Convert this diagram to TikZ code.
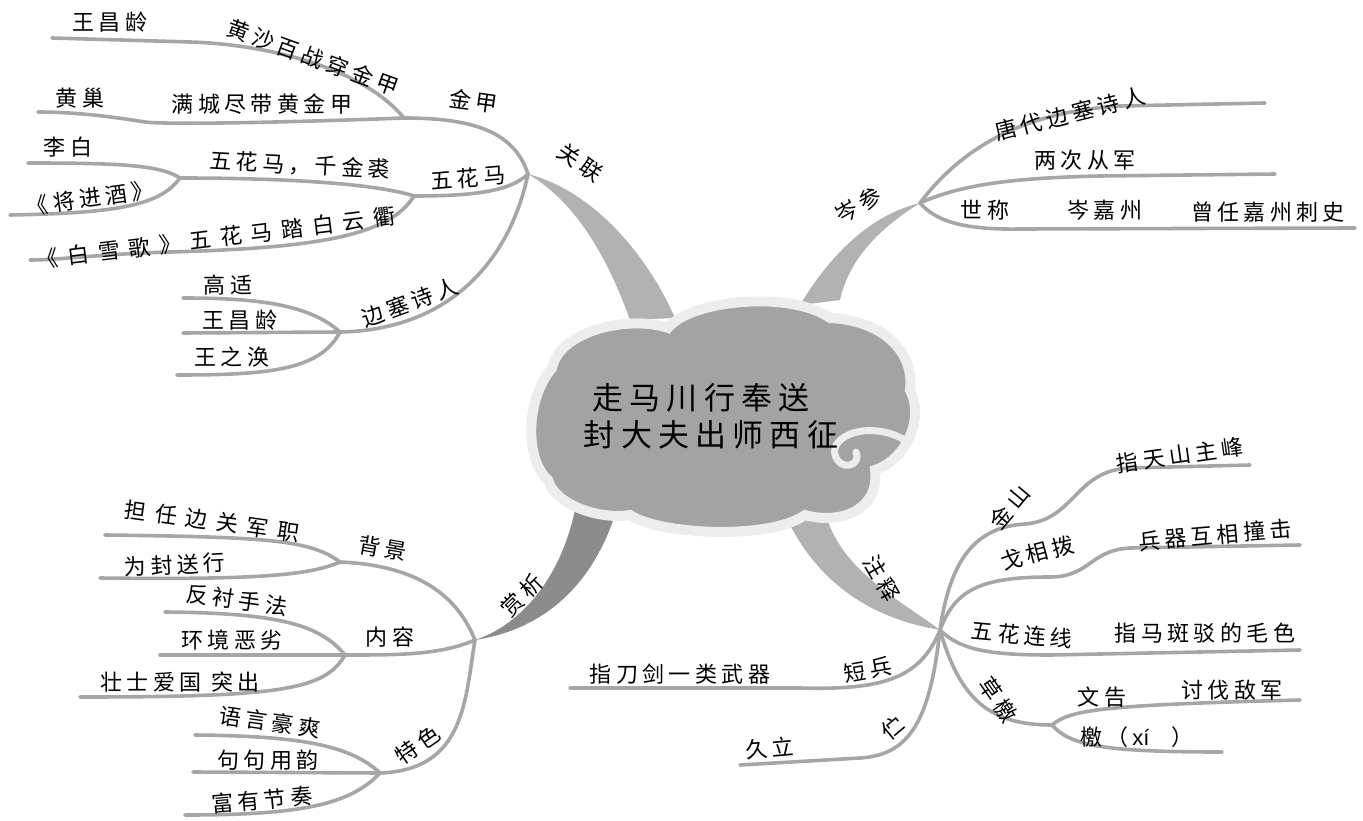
\documentclass[tikz,border=0pt]{standalone}
\usepackage{fontspec}
\newfontfamily\cjk[LetterSpace=20]{Noto Sans CJK SC}
\newfontfamily\pinyin{Liberation Sans}
\tikzset{
  twig/.style={draw=black!35, line width=3.6pt, line cap=round},
  limb/.style={fill=black!30},
  lbl/.style={font=\cjk\fontsize{22}{24}\selectfont, inner sep=0pt},
  wide/.style={font=\cjk\fontsize{22}{24}\selectfont\addfontfeature{LetterSpace=40}},
  ttl/.style={font=\cjk\fontsize{31}{34}\selectfont, inner sep=0pt},
}

\begin{document}
\begin{tikzpicture}[x=1pt,y=-1pt]
\useasboundingbox (0,0) rectangle (1363,821);

\coordinate (guanlian) at (528,174);
\coordinate (jinjia) at (404,118);
\coordinate (wuhuama) at (414,196);
\coordinate (jiangjin) at (180,178);
\coordinate (biansai) at (340,332);
\coordinate (censhen) at (920,203);
\coordinate (shangxi) at (475,640);
\coordinate (beijing) at (340,562);
\coordinate (neirong) at (345,655);
\coordinate (tese) at (380,773);
\coordinate (zhushi) at (940,630);
\coordinate (caoxi) at (1052,725);

\coordinate (e1) at (52,38);
\coordinate (e2) at (38,112);
\coordinate (e3) at (28,163);
\coordinate (e4) at (10,215);
\coordinate (e5) at (30,260);
\coordinate (e6) at (183,298);
\coordinate (e7) at (183,333);
\coordinate (e8) at (177,375);
\coordinate (e9) at (1265,103);
\coordinate (e10) at (1275,174);
\coordinate (e11) at (1355,228);
\coordinate (e12) at (105,535);
\coordinate (e13) at (100,578);
\coordinate (e14) at (165,612);
\coordinate (e15) at (160,655);
\coordinate (e16) at (80,697);
\coordinate (e17) at (195,735);
\coordinate (e18) at (193,772);
\coordinate (e19) at (185,815);
\coordinate (e20) at (1250,465);
\coordinate (e21) at (1300,545);
\coordinate (e22) at (1300,650);
\coordinate (e23) at (570,688);
\coordinate (e24) at (740,765);
\coordinate (e25) at (1300,700);
\coordinate (e26) at (1222,752);

\fill[limb] (630,320) .. controls (605,250) and (572,200) .. (guanlian) .. controls (590,190) and (645,250) .. (675,318) -- cycle;
\fill[limb] (800,305) .. controls (830,255) and (870,215) .. (censhen) .. controls (885,225) and (850,255) .. (840,300) -- cycle;
\fill[limb,black!45] (575,510) .. controls (560,580) and (520,625) .. (shangxi) .. controls (540,630) and (590,590) .. (615,515) -- cycle;
\fill[limb] (785,515) .. controls (820,590) and (880,620) .. (zhushi) .. controls (900,600) and (840,570) .. (825,512) -- cycle;

\draw[twig] (guanlian) .. controls (515,135) and (480,118) .. (jinjia);
\draw[twig] (jinjia) .. controls (360,65) and (260,44) .. (190,42) -- (e1);
\draw[twig] (jinjia) .. controls (300,122) and (170,125) .. (145,122) .. controls (120,118) and (80,112) .. (e2);
\draw[twig] (guanlian) .. controls (510,192) and (470,196) .. (wuhuama);
\draw[twig] (wuhuama) .. controls (380,185) and (300,178) .. (jiangjin);
\draw[twig] (jiangjin) .. controls (160,165) and (120,163) .. (e3);
\draw[twig] (jiangjin) .. controls (160,205) and (120,213) .. (e4);
\draw[twig] (wuhuama) .. controls (390,235) and (320,248) .. (170,252) .. controls (100,254) and (60,260) .. (e5);
\draw[twig] (guanlian) .. controls (510,260) and (450,330) .. (biansai);
\draw[twig] (biansai) .. controls (310,305) and (260,298) .. (e6);
\draw[twig] (biansai) -- (e7);
\draw[twig] (biansai) .. controls (320,370) and (270,375) .. (e8);

\draw[twig] (censhen) .. controls (960,150) and (1020,112) .. (1120,106) -- (e9);
\draw[twig] (censhen) .. controls (960,185) and (1010,178) .. (1100,176) -- (e10);
\draw[twig] (censhen) .. controls (935,220) and (960,230) .. (1020,229) -- (e11);

\draw[twig] (shangxi) .. controls (455,590) and (410,565) .. (beijing);
\draw[twig] (beijing) .. controls (310,540) and (270,537) .. (e12);
\draw[twig] (beijing) .. controls (310,575) and (260,580) .. (e13);
\draw[twig] (shangxi) .. controls (440,655) and (400,655) .. (neirong);
\draw[twig] (neirong) .. controls (320,625) and (280,613) .. (e14);
\draw[twig] (neirong) -- (e15);
\draw[twig] (neirong) .. controls (325,690) and (280,697) .. (e16);
\draw[twig] (shangxi) .. controls (465,700) and (465,770) .. (tese);
\draw[twig] (tese) .. controls (350,745) and (300,736) .. (e17);
\draw[twig] (tese) -- (e18);
\draw[twig] (tese) .. controls (350,805) and (300,815) .. (e19);

\draw[twig] (zhushi) .. controls (950,560) and (975,527) .. (1025,524) .. controls (1075,520) and (1075,470) .. (1130,468) -- (e20);
\draw[twig] (zhushi) .. controls (955,590) and (980,577) .. (1050,577) .. controls (1090,577) and (1090,550) .. (1130,548) -- (e21);
\draw[twig] (zhushi) .. controls (960,650) and (990,655) .. (1050,655) -- (e22);
\draw[twig] (zhushi) .. controls (920,680) and (880,690) .. (800,688) -- (e23);
\draw[twig] (zhushi) .. controls (930,720) and (910,755) .. (860,758) -- (e24);
\draw[twig] (zhushi) .. controls (960,700) and (990,725) .. (caoxi);
\draw[twig] (caoxi) .. controls (1070,710) and (1100,705) .. (e25);
\draw[twig] (caoxi) .. controls (1070,745) and (1100,752) .. (e26);

\draw[fill=black!36, draw=black!7, line width=10pt] (548,480) .. controls (525,460) and (525,400) .. (552,368)
  .. controls (560,330) and (630,315) .. (668,328)
  .. controls (690,300) and (790,290) .. (830,318)
  .. controls (880,320) and (915,350) .. (910,390)
  .. controls (925,420) and (905,460) .. (875,470)
  .. controls (880,510) and (840,525) .. (805,515)
  .. controls (770,540) and (660,535) .. (630,515)
  .. controls (600,520) and (555,505) .. (548,480) -- cycle;
\draw[black!7, line width=7pt, line cap=round] (905,440) .. controls (870,420) and (830,435) .. (835,455) .. controls (840,472) and (862,466) .. (856,452);

\node[ttl] (title1) at (701,398) {走马川行奉送};
\node[ttl] (title2) at (711,435) {封大夫出师西征};

\node[lbl, rotate=-35] (guanlianl) at (580,163) {关联};
\node[lbl, rotate=-8] (jinjial) at (474,101) {金甲};
\node[lbl] (wcl1) at (110,22) {王昌龄};
\node[lbl, rotate=-20] (huangsha) at (313,57) {黄沙百战穿金甲};
\node[lbl] (huangchao) at (80,98) {黄巢};
\node[lbl] (mancheng) at (262,104) {满城尽带黄金甲};
\node[lbl, rotate=5] (wuhuamal) at (468,178) {五花马};
\node[lbl, rotate=-3] (qianjin) at (300,165) {五花马，千金裘};
\node[lbl] (libail) at (68,147) {李白};
\node[lbl, rotate=8] (jiangjinl) at (90,198) {《将进酒》};
\node[lbl, wide, inner sep=0pt, rotate=7] (baixue) at (216,238) {《白雪歌》五花马踏白云衢};
\node[lbl, rotate=20] (biansail) at (410,302) {边塞诗人};
\node[lbl] (gaoshi) at (228,285) {高适};
\node[lbl] (wcl2) at (240,320) {王昌龄};
\node[lbl] (wzh) at (232,357) {王之涣};

\node[lbl, rotate=30] (censhenl) at (858,205) {岑参};
\node[lbl, rotate=14] (tangdai) at (1070,114) {唐代边塞诗人};
\node[lbl] (liangci) at (1085,160) {两次从军};
\node[lbl] (shicheng) at (985,210) {世称};
\node[lbl] (cenjia) at (1105,210) {岑嘉州};
\node[lbl] (cishi) at (1268,212) {曾任嘉州刺史};

\node[lbl, rotate=45] (shangxil) at (522,595) {赏析};
\node[lbl, rotate=-10] (beijingl) at (383,548) {背景};
\node[lbl, wide, inner sep=0pt, rotate=-8] (danren) at (212,521) {担任边关军职};
\node[lbl, rotate=3] (weifeng) at (175,565) {为封送行};
\node[lbl] (neirongl) at (390,637) {内容};
\node[lbl, rotate=-8] (fanchen) at (237,600) {反衬手法};
\node[lbl] (huanjing) at (232,640) {环境恶劣};
\node[lbl] (zhuangshi) at (180,682) {壮士爱国 突出};
\node[lbl, rotate=35] (tesel) at (418,745) {特色};
\node[lbl, rotate=-8] (yuyan) at (270,722) {语言豪爽};
\node[lbl] (juju) at (268,760) {句句用韵};
\node[lbl, rotate=5] (fuyou) at (262,800) {富有节奏};

\node[lbl, rotate=-60] (zhushil) at (882,578) {注释};
\node[lbl, rotate=50] (jinshan) at (1010,507) {金山};
\node[lbl, rotate=8] (tianshan) at (1180,455) {指天山主峰};
\node[lbl, rotate=15] (gexiang) at (1037,553) {戈相拨};
\node[lbl, rotate=5] (bingqi) at (1215,535) {兵器互相撞击};
\node[lbl, rotate=-5] (wuhualian) at (1022,635) {五花连线};
\node[lbl] (banbo) at (1205,633) {指马斑驳的毛色};
\node[lbl, rotate=10] (duanbing) at (868,670) {短兵};
\node[lbl] (daojian) at (680,674) {指刀剑一类武器};
\node[lbl, rotate=40] (zhu) at (893,728) {伫};
\node[lbl, rotate=5] (jiuli) at (770,748) {久立};
\node[lbl, rotate=-55] (caoxil) at (998,700) {草檄};
\node[lbl] (wengao) at (1102,697) {文告};
\node[lbl] (taofa) at (1232,690) {讨伐敌军};
\node[lbl] (xi) at (1137,737) {檄（\,{\pinyin xí}\quad）};
\end{tikzpicture}
\end{document}
